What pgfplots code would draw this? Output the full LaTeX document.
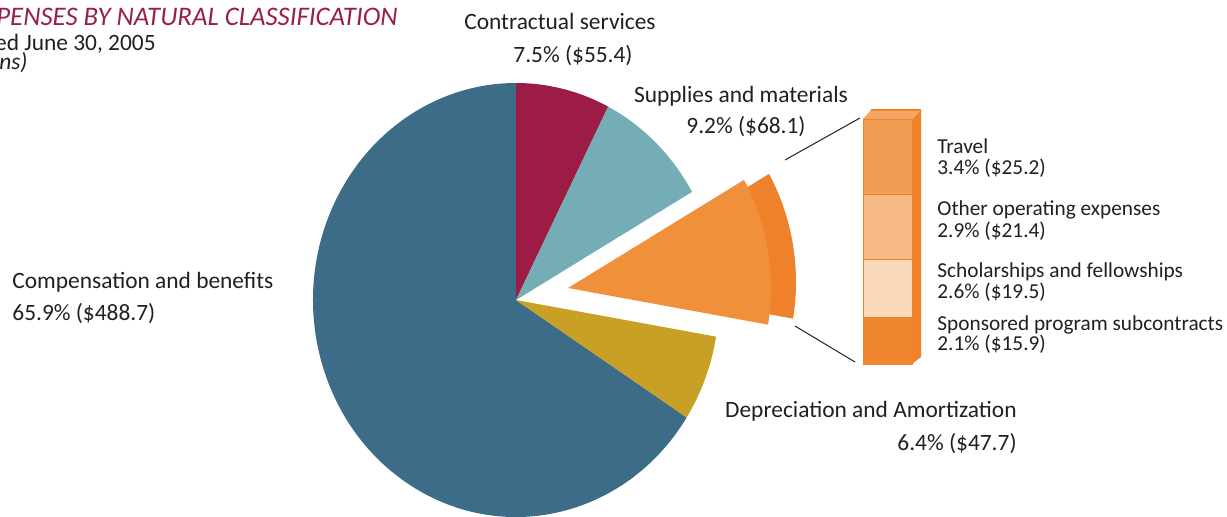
\documentclass[border=0pt]{standalone}
\usepackage{pgfplots}
\pgfplotsset{compat=1.18}
\usepackage{fontspec}
\setmainfont{Carlito}
\definecolor{cComp}{HTML}{3D6C89}
\definecolor{cCont}{HTML}{9D1C45}
\definecolor{cSupp}{HTML}{74ADB5}
\definecolor{cDepr}{HTML}{C9A026}
\definecolor{cFace}{HTML}{F0903A}
\definecolor{cDark}{HTML}{EE8129}
\definecolor{cTravel}{HTML}{F29D55}
\definecolor{cOther}{HTML}{F6B985}
\definecolor{cSchol}{HTML}{FAD9B9}
\definecolor{cSpons}{HTML}{F08630}
\definecolor{cSide}{HTML}{EF8227}
\definecolor{cTop}{HTML}{F4A563}
\definecolor{txt}{HTML}{231F20}
\definecolor{ttl}{HTML}{9A1D52}
% shares (percent)
\def\vCont{7.5}
\def\vSupp{9.2}
\def\vTravel{3.4}
\def\vOther{2.9}
\def\vSchol{2.6}
\def\vSpons{2.1}
\def\vDepr{6.4}
\def\vComp{65.9}
\pgfmathsetmacro\aA{90}
\pgfmathsetmacro\aB{\aA-3.6*\vCont}
\pgfmathsetmacro\aC{\aB-3.6*\vSupp}
\pgfmathsetmacro\aD{\aC-3.6*(\vTravel+\vOther+\vSchol+\vSpons)}
\pgfmathsetmacro\aE{\aD-3.6*\vDepr}
\pgfmathsetmacro\aF{\aE-3.6*\vComp}
\newcommand\mainf{\fontsize{11.7}{14}\selectfont}
\newcommand\smallf{\fontsize{10.65}{12}\selectfont}
\begin{document}
\begin{tikzpicture}
\path[use as bounding box] (0,0) rectangle (613.5pt,258pt);
\clip (0,0) rectangle (613.5pt,258pt);
\begin{axis}[at={(0,0)}, anchor=south west, width=613.5pt, height=258pt,
  scale only axis, xmin=0, xmax=1227, ymin=0, ymax=516, hide axis, clip=false]
\addplot[draw=none] coordinates {(0,0)};
% pie wedges
\fill[cComp] (axis cs:516,216) -- (axis cs:{516+203*cos(\aE)},{216+217*sin(\aE)})
  arc[start angle=\aE, end angle=\aF, x radius=101.5pt, y radius=108.5pt] -- cycle;
\fill[cCont] (axis cs:516,216) -- (axis cs:{516+203*cos(\aA)},{216+217*sin(\aA)})
  arc[start angle=\aA, end angle=\aB, x radius=101.5pt, y radius=108.5pt] -- cycle;
\fill[cSupp] (axis cs:516,216) -- (axis cs:{516+203*cos(\aB)},{216+217*sin(\aB)})
  arc[start angle=\aB, end angle=\aC, x radius=101.5pt, y radius=108.5pt] -- cycle;
\fill[cDepr] (axis cs:516,216) -- (axis cs:{516+203*cos(\aD)},{216+217*sin(\aD)})
  arc[start angle=\aD, end angle=\aE, x radius=101.5pt, y radius=108.5pt] -- cycle;
% exploded slice with depth
\fill[cDark] (axis cs:593,234) -- (axis cs:{593+203*cos(\aC)},{234+217*sin(\aC)})
  arc[start angle=\aC, end angle=\aD, x radius=101.5pt, y radius=108.5pt] -- cycle;
\fill[cFace] (axis cs:568,228) -- (axis cs:{568+203*cos(\aC)},{228+217*sin(\aC)})
  arc[start angle=\aC, end angle=\aD, x radius=101.5pt, y radius=108.5pt] -- cycle;
% connector lines
\draw[txt, line width=0.5pt] (axis cs:785,356) -- (axis cs:860,398);
\draw[txt, line width=0.5pt] (axis cs:795,190) -- (axis cs:855,154);
% bar depth: side and top
\fill[cSide] (axis cs:912,397) -- (axis cs:921,406) -- (axis cs:921,159) -- (axis cs:912,152) -- cycle;
\fill[cTop] (axis cs:863,397) -- (axis cs:871,406) -- (axis cs:921,406) -- (axis cs:912,397) -- cycle;
\draw[cSide, line width=0.6pt] (axis cs:871,406) -- (axis cs:921,406);
% title block
\node[anchor=base east, inner sep=0pt, text=ttl, font=\fontsize{13.4}{15}\selectfont\itshape] at (axis cs:398,491) {EXPENSES BY NATURAL CLASSIFICATION};
\node[anchor=base east, inner sep=0pt, text=txt, font=\mainf] at (axis cs:156,466) {For the year ended June 30, 2005};
\node[anchor=base east, inner sep=0pt, text=txt, font=\mainf\itshape] at (axis cs:28,447) {(in millions)};
% pie labels
\node[anchor=base, inner sep=0pt, text=txt, font=\mainf] at (axis cs:560,487) {Contractual services};
\node[anchor=base, inner sep=0pt, text=txt, font=\mainf] at (axis cs:573,454) {7.5\% (\$55.4)};
\node[anchor=base, inner sep=0pt, text=txt, font=\mainf] at (axis cs:741,414) {Supplies and materials};
\node[anchor=base, inner sep=0pt, text=txt, font=\mainf] at (axis cs:746,383) {9.2\% (\$68.1)};
\node[anchor=base west, inner sep=0pt, text=txt, font=\mainf] at (axis cs:12,228) {Compensation and benefits};
\node[anchor=base west, inner sep=0pt, text=txt, font=\mainf] at (axis cs:12,196) {65.9\% (\$488.7)};
\node[anchor=base east, inner sep=0pt, text=txt, font=\mainf] at (axis cs:1017,99) {Depreciation and Amortization};
\node[anchor=base east, inner sep=0pt, text=txt, font=\mainf] at (axis cs:1017,66) {6.4\% (\$47.7)};
% bar labels
\node[anchor=base west, inner sep=0pt, text=txt, font=\smallf] at (axis cs:937,363) {Travel};
\node[anchor=base west, inner sep=0pt, text=txt, font=\smallf] at (axis cs:937,342) {3.4\% (\$25.2)};
\node[anchor=base west, inner sep=0pt, text=txt, font=\smallf] at (axis cs:937,301) {Other operating expenses};
\node[anchor=base west, inner sep=0pt, text=txt, font=\smallf] at (axis cs:937,279) {2.9\% (\$21.4)};
\node[anchor=base west, inner sep=0pt, text=txt, font=\smallf] at (axis cs:937,239) {Scholarships and fellowships};
\node[anchor=base west, inner sep=0pt, text=txt, font=\smallf] at (axis cs:937,218) {2.6\% (\$19.5)};
\node[anchor=base west, inner sep=0pt, text=txt, font=\smallf] at (axis cs:937,186) {Sponsored program subcontracts};
\node[anchor=base west, inner sep=0pt, text=txt, font=\smallf] at (axis cs:937,166) {2.1\% (\$15.9)};
\end{axis}
\begin{axis}[at={(0,0)}, anchor=south west, width=613.5pt, height=258pt,
  scale only axis, xmin=0, xmax=1227, ymin=-6.825, ymax=16.345, hide axis, clip=false,
  ybar stacked, bar width=24.5pt]
\addplot[fill=cSpons, draw=cSide, line width=0.5pt] coordinates {(887.5,\vSpons)};
\addplot[fill=cSchol, draw=cSide, line width=0.5pt] coordinates {(887.5,\vSchol)};
\addplot[fill=cOther, draw=cSide, line width=0.5pt] coordinates {(887.5,\vOther)};
\addplot[fill=cTravel, draw=cSide, line width=0.5pt] coordinates {(887.5,\vTravel)};
\end{axis}
\end{tikzpicture}
\end{document}
